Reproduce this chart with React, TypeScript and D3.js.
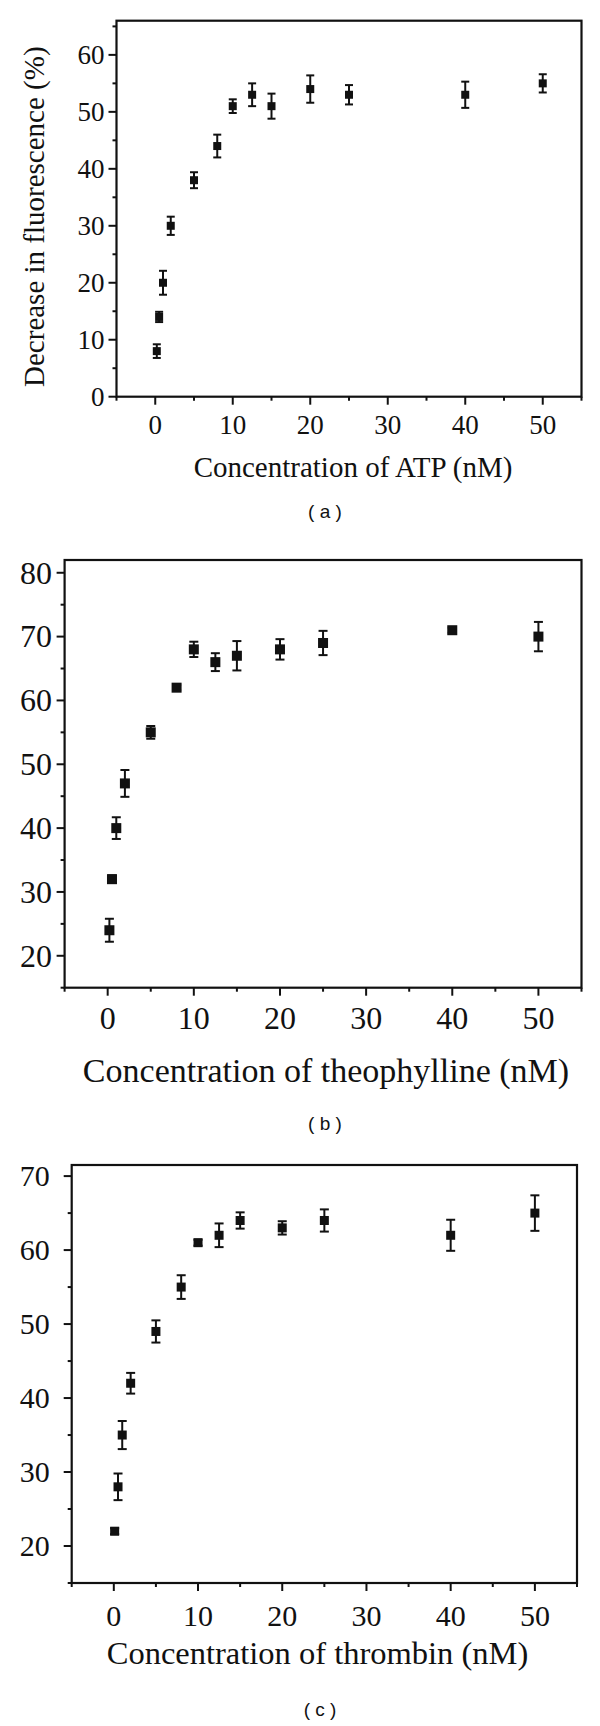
import * as d3 from 'd3'
import { useEffect, useRef } from 'react'

// concentrations (nM) and measured decrease in fluorescence (%)
const atpConc = [0.2, 0.5, 1, 2, 5, 8, 10, 12.5, 15, 20, 25, 40, 50]
const atpDecrease = [8, 14, 20, 30, 38, 44, 51, 53, 51, 54, 53, 53, 55]
const atpErr = [1.2, 0.9, 2.1, 1.6, 1.4, 2.0, 1.2, 2.0, 2.2, 2.4, 1.7, 2.3, 1.6]

const theoConc = [0.2, 0.5, 1, 2, 5, 8, 10, 12.5, 15, 20, 25, 40, 50]
const theoDecrease = [24, 32, 40, 47, 55, 62, 68, 66, 67, 68, 69, 71, 70]
const theoErr = [1.8, 0.6, 1.7, 2.1, 1.0, 0.4, 1.2, 1.4, 2.3, 1.6, 1.9, 0.4, 2.3]

const thrConc = [0.1, 0.5, 1, 2, 5, 8, 10, 12.5, 15, 20, 25, 40, 50]
const thrDecrease = [22, 28, 35, 42, 49, 55, 61, 62, 64, 63, 64, 62, 65]
const thrErr = [0.4, 1.8, 1.9, 1.4, 1.5, 1.6, 0.4, 1.6, 1.1, 0.9, 1.5, 2.1, 2.4]

const xMajor = [0, 10, 20, 30, 40, 50]
const xMinor = [-5, 5, 15, 25, 35, 45, 55]

const serif = '"Liberation Serif", "DejaVu Serif", serif'

const panels = [
  {
    conc: atpConc, val: atpDecrease, err: atpErr,
    yDomain: [0, 66], yMajor: [0, 10, 20, 30, 40, 50, 60], yMinor: [5, 15, 25, 35, 45, 55, 65],
    left: 116.5, right: 581.5, top: 20.7, bottom: 396.7,
    tickFont: 27, ylabGap: 12, xlabY: 434,
    xTitle: 'Concentration of ATP (nM)', xTitleX: 353, xTitleY: 477, titleFont: 29,
    yTitle: 'Decrease in fluorescence (%)',
    caption: '( a )', capX: 325, capY: 518, mark: 8, cap: 8,
  },
  {
    conc: theoConc, val: theoDecrease, err: theoErr,
    yDomain: [15, 82], yMajor: [20, 30, 40, 50, 60, 70, 80], yMinor: [15, 25, 35, 45, 55, 65, 75],
    left: 64.6, right: 581.5, top: 560, bottom: 987.7,
    tickFont: 32, ylabGap: 12.6, xlabY: 1029,
    xTitle: 'Concentration of theophylline (nM)', xTitleX: 326, xTitleY: 1082, titleFont: 34,
    yTitle: null,
    caption: '( b )', capX: 325, capY: 1130, mark: 10, cap: 9,
  },
  {
    conc: thrConc, val: thrDecrease, err: thrErr,
    yDomain: [15, 71.5], yMajor: [20, 30, 40, 50, 60, 70], yMinor: [15, 25, 35, 45, 55, 65],
    left: 71.7, right: 577, top: 1165, bottom: 1583,
    tickFont: 30, ylabGap: 22, xlabY: 1626,
    xTitle: 'Concentration of thrombin (nM)', xTitleX: 317.5, xTitleY: 1664, titleFont: 32.5,
    yTitle: null,
    caption: '( c )', capX: 320, capY: 1716, mark: 9, cap: 9,
  },
]

function drawPanel(svg: any, p: any) {
  const x = d3.scaleLinear().domain([-5, 55]).range([p.left, p.right])
  const y = d3.scaleLinear().domain(p.yDomain).range([p.bottom, p.top])
  const g = svg.append('g')
  const ink = '#111'

  // frame
  g.append('rect')
    .attr('x', p.left).attr('y', p.top)
    .attr('width', p.right - p.left).attr('height', p.bottom - p.top)
    .attr('fill', 'none').attr('stroke', ink).attr('stroke-width', 2.2)

  // ticks (outward)
  g.selectAll('.ymaj').data(p.yMajor).enter().append('line')
    .attr('x1', p.left - 8).attr('x2', p.left).attr('y1', (d: number) => y(d)).attr('y2', (d: number) => y(d))
    .attr('stroke', ink).attr('stroke-width', 2)
  g.selectAll('.ymin').data(p.yMinor).enter().append('line')
    .attr('x1', p.left - 4).attr('x2', p.left).attr('y1', (d: number) => y(d)).attr('y2', (d: number) => y(d))
    .attr('stroke', ink).attr('stroke-width', 2)
  g.selectAll('.xmaj').data(xMajor).enter().append('line')
    .attr('y1', p.bottom).attr('y2', p.bottom + 8).attr('x1', (d: number) => x(d)).attr('x2', (d: number) => x(d))
    .attr('stroke', ink).attr('stroke-width', 2)
  g.selectAll('.xmin').data(xMinor).enter().append('line')
    .attr('y1', p.bottom).attr('y2', p.bottom + 4).attr('x1', (d: number) => x(d)).attr('x2', (d: number) => x(d))
    .attr('stroke', ink).attr('stroke-width', 2)

  // tick labels
  g.selectAll('.ylab').data(p.yMajor).enter().append('text')
    .attr('x', p.left - p.ylabGap).attr('y', (d: number) => y(d)).attr('dy', '0.34em')
    .attr('text-anchor', 'end').attr('font-family', serif).attr('font-size', p.tickFont)
    .attr('fill', ink).text((d: number) => d)
  g.selectAll('.xlab').data(xMajor).enter().append('text')
    .attr('x', (d: number) => x(d)).attr('y', p.xlabY)
    .attr('text-anchor', 'middle').attr('font-family', serif).attr('font-size', p.tickFont)
    .attr('fill', ink).text((d: number) => d)

  // titles
  g.append('text').attr('x', p.xTitleX).attr('y', p.xTitleY)
    .attr('text-anchor', 'middle').attr('font-family', serif).attr('font-size', p.titleFont)
    .attr('fill', ink).text(p.xTitle)
  if (p.yTitle) {
    g.append('text').attr('transform', `translate(44,${(p.top + p.bottom) / 2 + 8}) rotate(-90)`)
      .attr('text-anchor', 'middle').attr('font-family', serif).attr('font-size', p.titleFont)
      .attr('fill', ink).text(p.yTitle)
  }
  g.append('text').attr('x', p.capX).attr('y', p.capY)
    .attr('text-anchor', 'middle').attr('font-family', '"Liberation Sans", Arial, sans-serif')
    .attr('font-size', 19).attr('fill', ink).attr('xml:space', 'preserve').text(p.caption)

  // error bars + square markers
  const pts = p.conc.map((c: number, i: number) => ({ c, v: p.val[i], e: p.err[i] }))
  const eb = g.selectAll('.eb').data(pts).enter().append('g')
  eb.append('line')
    .attr('x1', (d: any) => x(d.c)).attr('x2', (d: any) => x(d.c))
    .attr('y1', (d: any) => y(d.v - d.e)).attr('y2', (d: any) => y(d.v + d.e))
    .attr('stroke', ink).attr('stroke-width', 2)
  ;[-1, 1].forEach(s => {
    eb.append('line')
      .attr('x1', (d: any) => x(d.c) - p.cap / 2).attr('x2', (d: any) => x(d.c) + p.cap / 2)
      .attr('y1', (d: any) => y(d.v + s * d.e)).attr('y2', (d: any) => y(d.v + s * d.e))
      .attr('stroke', ink).attr('stroke-width', 2)
  })
  g.selectAll('.pt').data(pts).enter().append('rect')
    .attr('x', (d: any) => x(d.c) - p.mark / 2).attr('y', (d: any) => y(d.v) - p.mark / 2)
    .attr('width', p.mark).attr('height', p.mark).attr('fill', ink)
}

export default function App() {
  const ref = useRef<SVGSVGElement>(null)
  useEffect(() => {
    const svg = d3.select(ref.current)
    svg.selectAll('*').remove()
    svg.append('rect').attr('width', 600).attr('height', 1726).attr('fill', '#fff')
    panels.forEach(p => drawPanel(svg, p))
  }, [])
  return (
    <svg ref={ref} width={600} height={1726}
      style={{ position: 'absolute', left: 0, top: 0, display: 'block' }} />
  )
}
